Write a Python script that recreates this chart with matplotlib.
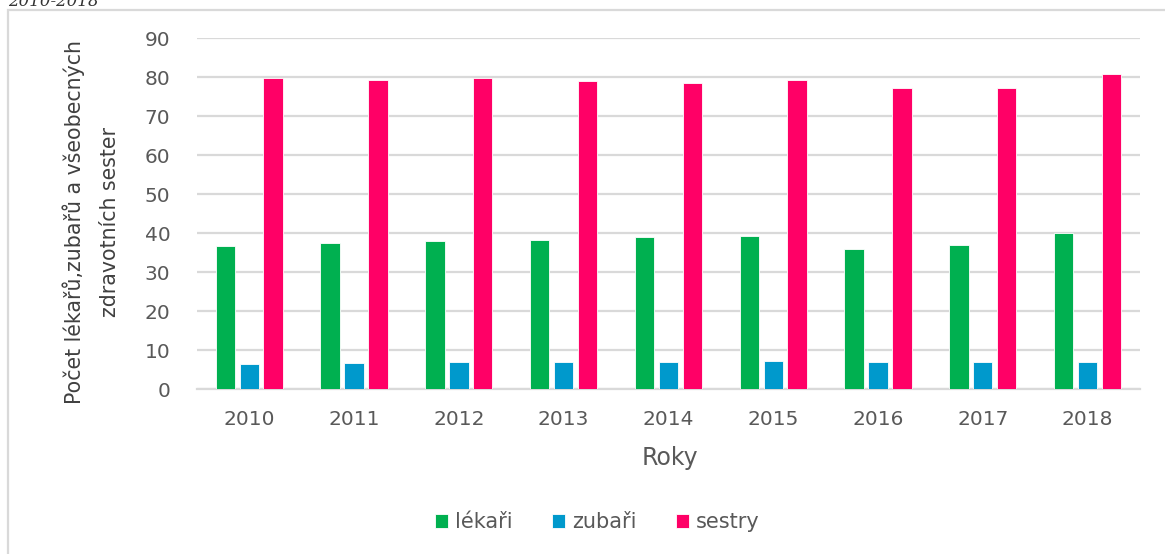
import matplotlib
matplotlib.use("Agg")
import matplotlib.pyplot as plt
import numpy as np
from matplotlib.patches import Rectangle

years = ["2010", "2011", "2012", "2013", "2014", "2015", "2016", "2017", "2018"]
lekari = [36.7, 37.4, 37.9, 38.2, 39.0, 39.2, 35.9, 36.8, 40.0]
zubari = [6.4, 6.7, 6.8, 6.8, 6.8, 7.2, 6.8, 6.8, 6.8]
sestry = [79.7, 79.2, 79.7, 79.0, 78.5, 79.3, 77.1, 77.1, 80.8]
series_names = ["lékaři", "zubaři", "sestry"]
colors = ["#00B050", "#0099CC", "#FF0066"]

fig = plt.figure(figsize=(11.65, 5.54), dpi=100)
ax = fig.add_axes([0.169, 0.2978, 0.8095, 0.6336])

x = np.arange(len(years))
w = 0.185
step = 0.228
for i, (vals, name, c) in enumerate(zip([lekari, zubari, sestry], series_names, colors)):
    ax.bar(x + (i - 1) * step, vals, width=w, color=c, edgecolor="white",
           linewidth=0.6, label=name, zorder=3)

ax.set_xlim(-0.5, 8.5)
ax.set_ylim(0, 90)
ax.set_yticks(range(0, 91, 10))
ax.set_xticks(x)
ax.set_xticklabels(years)
ax.yaxis.grid(True, color="#D9D9D9", linewidth=1.6, zorder=0)
ax.set_axisbelow(True)
for s in ["top", "right", "left"]:
    ax.spines[s].set_visible(False)
ax.spines["bottom"].set_color("#D9D9D9")
ax.spines["bottom"].set_linewidth(1.6)
ax.tick_params(axis="both", length=0, labelsize=14.5, colors="#595959")
ax.tick_params(axis="x", pad=15)
ax.tick_params(axis="y", pad=19)
for lab in ax.get_xticklabels() + ax.get_yticklabels():
    lab.set_family(["DejaVu Sans"])

fig.text(0.0785, 0.6, "Počet lékařů,zubařů a všeobecných\nzdravotních sester",
         rotation=90, ha="center", va="center", fontsize=14.8, color="#404040",
         family=["DejaVu Sans"], linespacing=1.95)

fig.text(0.575, 0.173, "Roky", ha="center", va="center", fontsize=17,
         color="#595959", family=["DejaVu Sans"])

leg = fig.legend(loc="center", bbox_to_anchor=(0.513, 0.057), ncol=3, frameon=False,
                 fontsize=15, handlelength=0.6, handleheight=0.6, handletextpad=0.35,
                 columnspacing=1.9)
for t in leg.get_texts():
    t.set_color("#595959")
    t.set_family(["DejaVu Sans"])

fig.patches.append(Rectangle((8 / 1165, -0.1), 1.2, 1 - 10 / 554 + 0.1,
                             transform=fig.transFigure, fill=False,
                             edgecolor="#D9D9D9", linewidth=1.6))

fig.text(8 / 1165, 1 - 6 / 554, "2010-2018", ha="left", va="baseline",
         fontsize=12, style="italic", family=["DejaVu Serif"], color="#333333")

fig.savefig("out.png", dpi=100)
